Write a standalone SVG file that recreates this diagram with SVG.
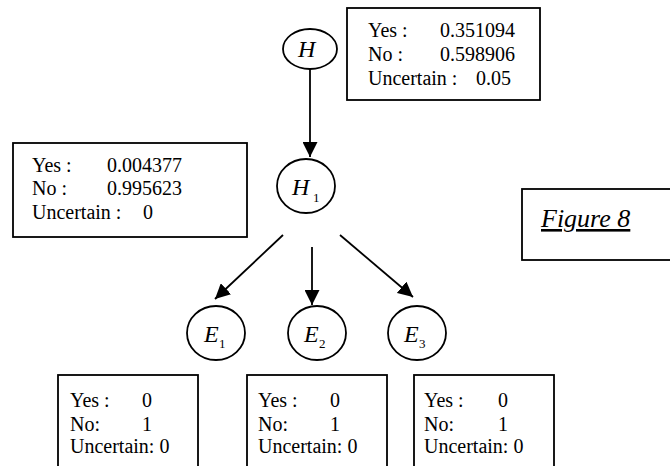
<svg xmlns="http://www.w3.org/2000/svg" width="670" height="466" viewBox="0 0 670 466">
<defs>
<marker id="ah" markerWidth="15" markerHeight="15" refX="15" refY="7.5" orient="auto" markerUnits="userSpaceOnUse">
<path d="M0,0 L15,7.5 L0,15 Z" fill="#000"/>
</marker>
<style>
.n{fill:#fff;stroke:#000;stroke-width:1.8}
.b{fill:#fff;stroke:#000;stroke-width:1.8}
text{font-family:'Liberation Serif','Times New Roman','DejaVu Serif',serif;fill:#000}
.t{font-size:20px}
.i{font-size:24px;font-style:italic}
.s{font-size:13px}
.f{font-size:26px;font-style:italic;text-decoration:underline}
.c{stroke:#000;stroke-width:1.8;fill:none;marker-end:url(#ah)}
</style>
</defs>
<g id="connectors">
<line class="c" x1="310" y1="69" x2="310" y2="157"/>
<line class="c" x1="283" y1="235" x2="215" y2="299"/>
<line class="c" x1="312" y1="247" x2="312" y2="305"/>
<line class="c" x1="340" y1="235" x2="413" y2="297"/>
</g>
<g id="H">
<ellipse class="n" cx="310" cy="49" rx="27" ry="20"/>
<text class="i" x="298" y="57">H</text>
</g>
<g id="H1">
<ellipse class="n" cx="306" cy="186" rx="29" ry="27"/>
<text class="i" x="292" y="195">H</text><text class="s" x="313" y="202">1</text>
</g>
<g id="E1">
<ellipse class="n" cx="216" cy="333" rx="29" ry="27"/>
<text class="i" x="204" y="342">E</text><text class="s" x="219" y="348">1</text>
</g>
<g id="E2">
<ellipse class="n" cx="317" cy="333" rx="29" ry="27"/>
<text class="i" x="304" y="342">E</text><text class="s" x="319" y="348">2</text>
</g>
<g id="E3">
<ellipse class="n" cx="417" cy="333" rx="29" ry="27"/>
<text class="i" x="404" y="342">E</text><text class="s" x="419" y="348">3</text>
</g>
<g id="boxH">
<rect class="b" x="347" y="8" width="193" height="92"/>
<text class="t" x="368" y="37">Yes :</text><text class="t" x="440" y="37">0.351094</text>
<text class="t" x="368" y="61">No :</text><text class="t" x="440" y="61">0.598906</text>
<text class="t" x="368" y="85">Uncertain :</text><text class="t" x="476" y="85">0.05</text>
</g>
<g id="boxH1">
<rect class="b" x="13" y="143" width="234" height="94"/>
<text class="t" x="32" y="172">Yes :</text><text class="t" x="107" y="172">0.004377</text>
<text class="t" x="32" y="195">No :</text><text class="t" x="107" y="195">0.995623</text>
<text class="t" x="32" y="219">Uncertain :</text><text class="t" x="143" y="219">0</text>
</g>
<g id="boxE1">
<rect class="b" x="58" y="375" width="140" height="100"/>
<text class="t" x="70" y="407">Yes :</text><text class="t" x="142" y="407">0</text>
<text class="t" x="70" y="431">No:</text><text class="t" x="142" y="431">1</text>
<text class="t" x="70" y="453">Uncertain: 0</text>
</g>
<g id="boxE2">
<rect class="b" x="247" y="375" width="140" height="100"/>
<text class="t" x="258" y="407">Yes :</text><text class="t" x="330" y="407">0</text>
<text class="t" x="258" y="431">No:</text><text class="t" x="330" y="431">1</text>
<text class="t" x="258" y="453">Uncertain: 0</text>
</g>
<g id="boxE3">
<rect class="b" x="414" y="375" width="140" height="100"/>
<text class="t" x="424" y="407">Yes :</text><text class="t" x="498" y="407">0</text>
<text class="t" x="424" y="431">No:</text><text class="t" x="498" y="431">1</text>
<text class="t" x="424" y="453">Uncertain: 0</text>
</g>
<g id="fig">
<rect class="b" x="522" y="189" width="160" height="71"/>
<text class="f" x="541" y="227">Figure 8</text>
</g>
</svg>
